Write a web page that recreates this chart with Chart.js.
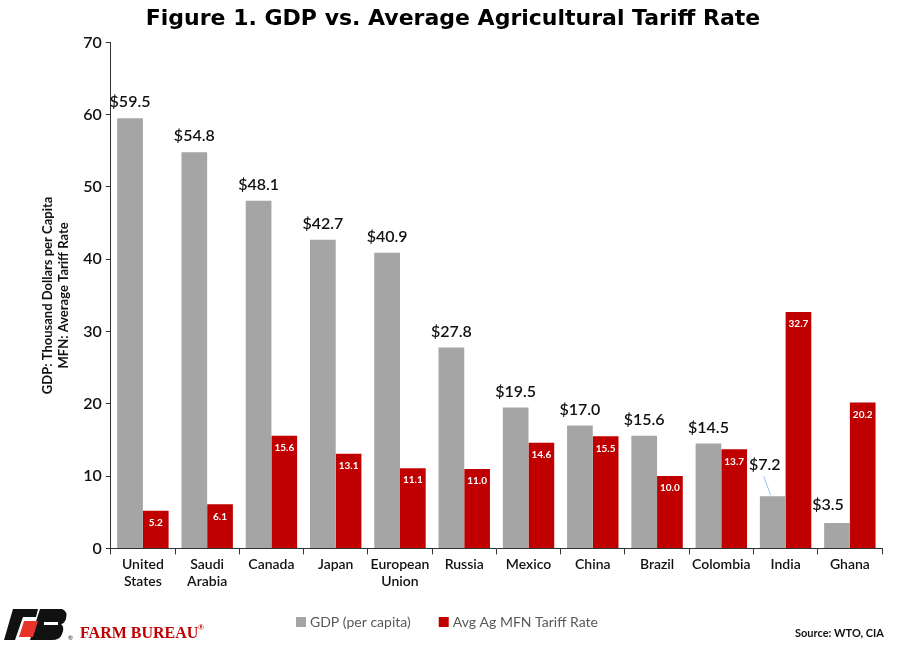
<!DOCTYPE html>
<html>
<head>
<meta charset="utf-8">
<script src="https://cdn.jsdelivr.net/npm/chart.js@4.4.1/dist/chart.umd.min.js"></script>
<style>
  html, body { margin: 0; padding: 0; background: #fff; }
  #wrap { width: 900px; height: 650px; position: relative; }
</style>
</head>
<body>
<div id="wrap"><canvas id="grafico" width="900" height="650"></canvas></div>
<script>
const PAISES = [["United", "States"], ["Saudi", "Arabia"], "Canada", "Japan", ["European", "Union"],
                "Russia", "Mexico", "China", "Brazil", "Colombia", "India", "Ghana"];
const PIB = [59.5, 54.8, 48.1, 42.7, 40.9, 27.8, 19.5, 17.0, 15.6, 14.5, 7.2, 3.5];
const TARIFA = [5.2, 6.1, 15.6, 13.1, 11.1, 11.0, 14.6, 15.5, 10.0, 13.7, 32.7, 20.2];
const Y_TICKS = [0, 10, 20, 30, 40, 50, 60, 70];

const CINZA = "#a5a5a5";
const VERMELHO = "#c00000";
const FONTE = "Lato, 'Open Sans', sans-serif";

// deslocamento dos rótulos de India e Ghana (ficam puxados pra esquerda)
const DESLOC_ROTULO = { 10: { dx: -8, dy: -16, linha: true }, 11: { dx: -9, dy: -2 } };

const rotulosPlugin = {
    id: "rotulos",
    afterDatasetsDraw(chart) {
        const ctx = chart.ctx;
        ctx.save();
        ctx.textAlign = "center";

        // GDP acima das barras cinzas
        chart.getDatasetMeta(0).data.forEach((bar, i) => {
            const d = DESLOC_ROTULO[i] || { dx: 0, dy: 0 };
            const x = bar.x + d.dx;
            const y = bar.y - 8 + d.dy;
            if (d.linha) {
                ctx.strokeStyle = "#9dc3e6";
                ctx.lineWidth = 1;
                ctx.beginPath();
                ctx.moveTo(x - 1, y + 4);
                ctx.lineTo(bar.x - 2, bar.y - 1);
                ctx.stroke();
            }
            ctx.fillStyle = "#111";
            ctx.font = "600 16px " + FONTE;
            ctx.textBaseline = "bottom";
            ctx.fillText("$" + PIB[i].toFixed(1), x, y);
        });

        // tarifa dentro das barras vermelhas
        chart.getDatasetMeta(1).data.forEach((bar, i) => {
            ctx.fillStyle = "#fff";
            ctx.font = "bold 10px " + FONTE;
            ctx.textBaseline = "middle";
            ctx.fillText(TARIFA[i].toFixed(1), bar.x, bar.y + 12);
        });
        ctx.restore();
    },
    afterDraw(chart) {
        const ctx = chart.ctx;
        ctx.save();

        // legenda
        let lx = 296;
        const ly = 622;
        chart.data.datasets.forEach((ds, k) => {
            ctx.fillStyle = ds.backgroundColor;
            ctx.fillRect(lx, ly - 5, 10, 10);
            ctx.fillStyle = "#595959";
            ctx.font = "14px " + FONTE;
            ctx.textAlign = "left";
            ctx.textBaseline = "middle";
            ctx.fillText(ds.label, lx + 14, ly);
            lx += ctx.measureText(ds.label).width + 14 + 28;
        });

        // fonte
        ctx.fillStyle = "#111";
        ctx.font = "bold 11px " + FONTE;
        ctx.textAlign = "right";
        ctx.fillText("Source: WTO, CIA", 884, 633);

        // logo Farm Bureau (aproximado)
        ctx.fillStyle = "#111";
        ctx.beginPath();
        ctx.moveTo(13, 609); ctx.lineTo(38, 609); ctx.lineTo(36, 617); ctx.lineTo(23, 617);
        ctx.lineTo(15, 640); ctx.lineTo(4, 640); ctx.closePath();
        ctx.fill();
        ctx.beginPath();
        ctx.moveTo(40, 609); ctx.lineTo(62, 609); ctx.quadraticCurveTo(68, 611, 66, 619);
        ctx.quadraticCurveTo(64, 624, 61, 624); ctx.quadraticCurveTo(65, 627, 62, 634);
        ctx.quadraticCurveTo(60, 640, 52, 640); ctx.lineTo(30, 640); ctx.closePath();
        ctx.fill();
        ctx.fillStyle = "#e8332a";
        ctx.beginPath();
        ctx.moveTo(24, 621); ctx.lineTo(38, 621); ctx.lineTo(33, 637); ctx.lineTo(19, 637);
        ctx.closePath();
        ctx.fill();
        ctx.fillStyle = "#fff";
        ctx.fillRect(44, 622, 14, 3);
        ctx.fillStyle = VERMELHO;
        ctx.font = "bold 16px 'Liberation Serif', serif";
        ctx.textAlign = "left";
        ctx.textBaseline = "alphabetic";
        ctx.fillText("FARM BUREAU", 80, 638);
        ctx.font = "bold 8px 'Liberation Serif', serif";
        ctx.fillText("®", 198, 630);
        ctx.fillStyle = "#111";
        ctx.font = "6px " + FONTE;
        ctx.fillText("®", 68, 640);
        ctx.restore();
    }
};

const ctx = document.getElementById("grafico").getContext("2d");

new Chart(ctx, {
    type: "bar",
    data: {
        labels: PAISES,
        datasets: [
            { label: "GDP (per capita)", data: PIB, backgroundColor: CINZA },
            { label: "Avg Ag MFN Tariff Rate", data: TARIFA, backgroundColor: VERMELHO }
        ]
    },
    options: {
        responsive: false,
        animation: false,
        layout: { padding: { left: 24, right: 18, top: 2, bottom: 58 } },
        datasets: { bar: { categoryPercentage: 0.8, barPercentage: 1.0 } },
        plugins: {
            legend: { display: false },
            tooltip: { enabled: false },
            title: {
                display: true,
                text: "Figure 1. GDP vs. Average Agricultural Tariff Rate",
                color: "#000",
                font: { family: "'DejaVu Sans', sans-serif", size: 22, weight: "bold" },
                padding: { top: 4, bottom: 10 }
            }
        },
        scales: {
            x: {
                grid: { display: true, drawOnChartArea: false, tickLength: 6, color: "#333" },
                border: { color: "#333" },
                ticks: { color: "#111", font: { family: FONTE, size: 14, weight: "600" }, maxRotation: 0, autoSkip: false, padding: 2 },
            },
            y: {
                min: 0,
                max: 70,
                afterBuildTicks(axis) { axis.ticks = Y_TICKS.map(v => ({ value: v })); },
                grid: { display: true, drawOnChartArea: false, tickLength: 5, color: "#333" },
                border: { color: "#333" },
                ticks: { color: "#111", font: { family: FONTE, size: 16, weight: "600" }, padding: 4 },
                title: {
                    display: true,
                    text: ["GDP: Thousand Dollars per Capita", "MFN: Average Tariff Rate"],
                    color: "#111",
                    font: { family: FONTE, size: 13, weight: "bold" },
                    padding: { top: 16, bottom: 8 }
                }
            }
        }
    },
    plugins: [rotulosPlugin]
});
</script>
</body>
</html>
